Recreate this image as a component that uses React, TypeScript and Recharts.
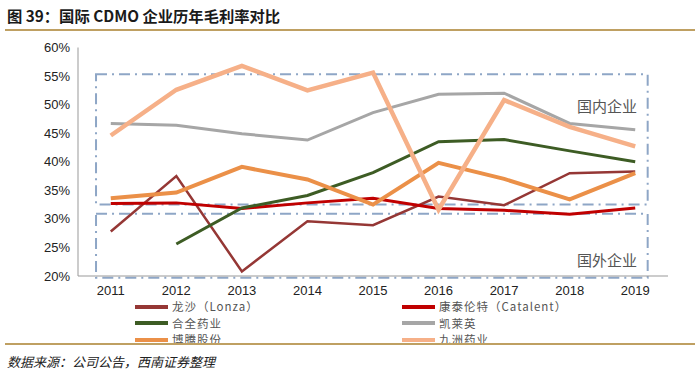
import React from 'react'
import { LineChart, Line, XAxis, YAxis, ReferenceArea } from 'recharts'

// gross margin, % of revenue
const years = [2011, 2012, 2013, 2014, 2015, 2016, 2017, 2018, 2019]
const lonza = [27.8, 37.5, 20.8, 29.6, 28.9, 33.9, 32.4, 38.0, 38.3]
const catalent = [32.7, 32.8, 31.8, 32.8, 33.6, 31.8, 31.5, 30.8, 31.9]
const heQuan = [null, 25.6, 31.9, 34.1, 38.1, 43.5, 43.9, 41.9, 40.0]
const kaiLaiYing = [46.7, 46.4, 44.9, 43.8, 48.6, 51.8, 52.0, 46.7, 45.6]
const boTeng = [33.6, 34.6, 39.1, 36.9, 32.5, 39.8, 37.0, 33.4, 38.0]
const jiuZhou = [44.6, 52.6, 56.8, 52.5, 55.6, 31.6, 50.8, 46.1, 42.7]
const yTicks = [20, 25, 30, 35, 40, 45, 50, 55, 60]

// dash-dot boxes around the two groups
const domesticBox = { x1: 2010.775, x2: 2019.19, y1: 32.5, y2: 55.3 }
const foreignBox = { x1: 2010.775, x2: 2019.19, y1: 19.7, y2: 30.9 }

const series = [
  { key: 'lonza', name: '龙沙（Lonza）', values: lonza, color: '#953735', width: 2.5 },
  { key: 'catalent', name: '康泰伦特（Catalent）', values: catalent, color: '#C00000', width: 3 },
  { key: 'hequan', name: '合全药业', values: heQuan, color: '#3D5C24', width: 3 },
  { key: 'kly', name: '凯莱英', values: kaiLaiYing, color: '#A6A6A6', width: 3 },
  { key: 'boteng', name: '博腾股份', values: boTeng, color: '#EB9048', width: 4 },
  { key: 'jiuzhou', name: '九洲药业', values: jiuZhou, color: '#F6B088', width: 4.5 },
]

const data = years.map((year, i) => {
  const row: Record<string, number | null> = { year }
  series.forEach((s) => { row[s.key] = s.values[i] })
  return row
})

const font = '"Liberation Sans", Arial, sans-serif'
const cjk = '"Noto Sans CJK SC", sans-serif'
const boxStroke = '#8EA6C6'

const App = () => {
  return (
    <div style={{ position: 'relative', width: 700, height: 375, background: '#fff', overflow: 'hidden' }}>
      <style>{'body{margin:0}'}</style>
      <div style={{ position: 'absolute', left: 7, top: 4, fontFamily: cjk, fontWeight: 700, fontSize: 15.3, color: '#1a1a1a' }}>
        图 39：国际 CDMO 企业历年毛利率对比
      </div>
      <div style={{ position: 'absolute', left: 5, top: 29, width: 690, height: 2, background: '#BFA062' }} />

      <div style={{ position: 'absolute', left: 0, top: 0 }}>
        <LineChart width={700} height={306} data={data} margin={{ top: 47.5, right: 32, left: 0, bottom: 0 }}>
          <XAxis
            dataKey="year"
            type="number"
            domain={[2010.5, 2019.5]}
            ticks={years}
            stroke="#999"
            tickLine={false}
            tickMargin={4}
            tick={{ fill: '#222', fontSize: 13, fontFamily: font }}
            height={30}
          />
          <YAxis
            domain={[20, 60]}
            ticks={yTicks}
            tickFormatter={(v) => `${v}%`}
            stroke="#999"
            tickLine={false}
            tick={{ fill: '#222', fontSize: 13, fontFamily: font }}
            width={78}
          />
          <ReferenceArea {...domesticBox} fill="none" stroke={boxStroke} strokeWidth={2} strokeDasharray="11 5 2 5" ifOverflow="visible" />
          <ReferenceArea {...foreignBox} fill="none" stroke={boxStroke} strokeWidth={2} strokeDasharray="11 5 2 5" ifOverflow="visible" />
          {series.map((s) => (
            <Line
              key={s.key}
              dataKey={s.key}
              name={s.name}
              stroke={s.color}
              strokeWidth={s.width}
              dot={false}
              isAnimationActive={false}
            />
          ))}
        </LineChart>
      </div>

      <div style={{ position: 'absolute', left: 577, top: 95, fontFamily: cjk, fontSize: 15, color: '#555' }}>国内企业</div>
      <div style={{ position: 'absolute', left: 577, top: 249, fontFamily: cjk, fontSize: 15, color: '#555' }}>国外企业</div>

      {/* legend, two columns */}
      {series.map((s, i) => (
        <div
          key={s.key}
          style={{
            position: 'absolute',
            left: i % 2 === 0 ? 135 : 402,
            top: 298.3 + Math.floor(i / 2) * 16.5,
            height: 16.5,
            lineHeight: '16.5px',
            display: 'flex',
            alignItems: 'center',
            fontFamily: cjk,
            fontSize: 11.5,
            letterSpacing: 1,
            color: '#555',
            whiteSpace: 'nowrap',
          }}
        >
          <span style={{ display: 'inline-block', width: 33, height: 4, background: s.color, marginRight: 4 }} />
          {s.name}
        </div>
      ))}

      <div style={{ position: 'absolute', left: 5, top: 343, width: 690, height: 2, background: '#BFA062' }} />
      <div style={{ position: 'absolute', left: 7, top: 352, fontFamily: cjk, fontStyle: 'italic', fontSize: 13, color: '#222' }}>
        数据来源：公司公告，西南证券整理
      </div>
    </div>
  )
}

export default App
